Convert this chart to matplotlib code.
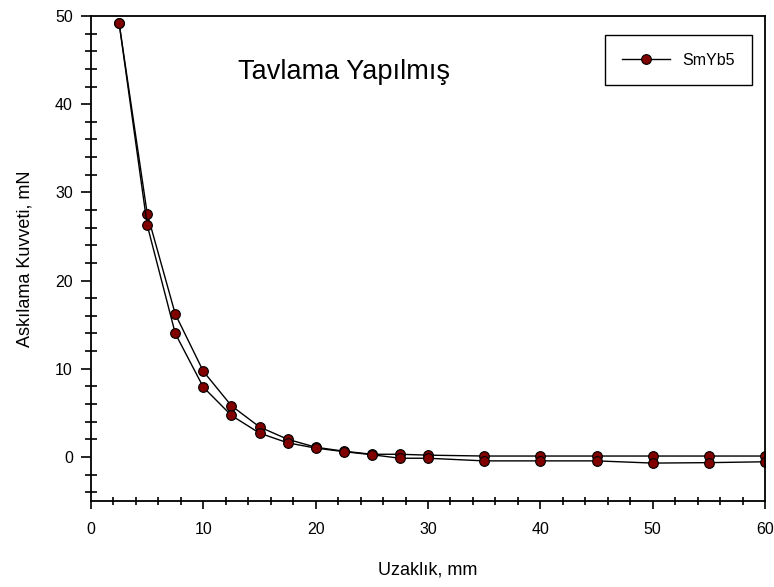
import matplotlib.pyplot as plt
from matplotlib.ticker import MultipleLocator

plt.rcParams['font.family'] = ['Liberation Sans', 'DejaVu Sans']

# distance (mm) and attached force (mN) for the two passes
uzaklik = [2.5, 5, 7.5, 10, 12.5, 15, 17.5, 20, 22.5, 25, 27.5, 30, 35, 40, 45, 50, 55, 60]
kuvvet_1 = [49.2, 27.6, 16.2, 9.7, 5.8, 3.4, 2.0, 1.1, 0.65, 0.3, 0.3, 0.2, 0.1, 0.1, 0.1, 0.1, 0.1, 0.1]
kuvvet_2 = [49.2, 26.3, 14.0, 7.9, 4.7, 2.7, 1.6, 1.0, 0.6, 0.25, -0.15, -0.15, -0.45, -0.45, -0.45, -0.7, -0.65, -0.55]

fig = plt.figure(figsize=(7.74, 5.87), dpi=100)
ax = fig.add_axes([0.1176, 0.1465, 0.8708, 0.8262])

style = dict(color='black', lw=1.0, marker='o', markersize=7,
             markerfacecolor='#800000', markeredgecolor='black', markeredgewidth=0.8)
ax.plot(uzaklik, kuvvet_1, label='SmYb5', **style)
ax.plot(uzaklik, kuvvet_2, **style)

ax.set_xlim(0, 60)
ax.set_ylim(-5, 50)
ax.xaxis.set_major_locator(MultipleLocator(10))
ax.xaxis.set_minor_locator(MultipleLocator(2))
ax.yaxis.set_major_locator(MultipleLocator(10))
ax.yaxis.set_minor_locator(MultipleLocator(2))
ax.tick_params(which='both', width=1.2, labelsize=11.5)
ax.tick_params(axis='y', which='major', direction='out', length=7, pad=6)
ax.tick_params(axis='y', which='minor', direction='inout', length=8)
ax.tick_params(axis='x', which='major', direction='out', length=6, pad=9)
ax.tick_params(axis='x', which='minor', direction='inout', length=6)
ax.tick_params(top=False, right=False)
for s in ax.spines.values():
    s.set_linewidth(1.3)

ax.set_xlabel('Uzaklık, mm', fontsize=13)
ax.xaxis.set_label_coords(0.5, -0.125)
ax.set_ylabel('Askılama Kuvveti, mN', fontsize=13)
ax.yaxis.set_label_coords(-0.086, 0.5)
ax.text(0.218, 0.885, 'Tavlama Yapılmış', transform=ax.transAxes, fontsize=19.5, va='center')

leg = ax.legend(loc='upper right', bbox_to_anchor=(0.981, 0.961), fontsize=11.5,
                fancybox=False, edgecolor='black', framealpha=1,
                borderpad=1.1, handlelength=3.0, handletextpad=0.75, borderaxespad=0)
leg.get_frame().set_linewidth(1.0)

fig.savefig('out.png', dpi=100)
